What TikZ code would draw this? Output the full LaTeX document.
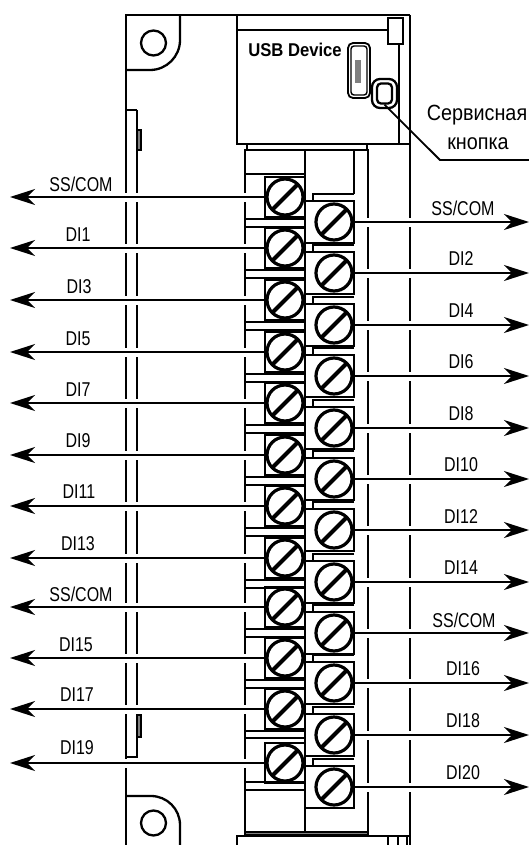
\documentclass[tikz,border=0pt]{standalone}
\usepackage{fontspec}
\setmainfont[FakeStretch=0.8]{Liberation Sans}
\newfontfamily\usbfont[FakeStretch=0.9]{Liberation Sans}
\usetikzlibrary{arrows.meta}
\tikzset{
  frameline/.style={draw,line width=2.3pt},
  screwpic/.style={path picture={
      \begin{scope}[shift={(path picture bounding box.center)}]
        \draw[line width=3.2pt] (#1,0) circle (18);
        \draw[line width=4pt] (#1-13,13) -- (#1+13,-13);
      \end{scope}}},
  lterm/.style={rectangle,draw,line width=2.4pt,inner sep=0pt,minimum width=40pt,minimum height=40pt,screwpic=0},
  rterm/.style={rectangle,draw,line width=2.4pt,inner sep=0pt,minimum width=49pt,minimum height=42pt,screwpic=4.5},
  wire/.style={draw,line width=2pt,-{Stealth[length=25pt,width=16pt,inset=8pt]},preaction={draw=white,line width=9pt,-}},
  pinlabel/.style={font=\fontsize{20}{20}\selectfont,inner sep=0pt},
}
\begin{document}
\begin{tikzpicture}[x=1pt,y=-1pt]
      \useasboundingbox (0,0) rectangle (529,845);
      % housing
      \draw[frameline] (126,845) -- (126,15) -- (410,15);
      \draw[frameline] (410,15) -- (410,845);
      \draw[frameline] (137,110) -- (137,757) -- (126,757);
      \draw[frameline] (126,110) -- (137,110);
      \draw[frameline,fill=gray] (137,130) rectangle (141,150);
      \draw[frameline,fill=gray] (137,715) rectangle (141,737);
      \draw[frameline] (180,15) -- (180,40) arc (0:90:30) -- (126,70);
      \draw[frameline] (126,796) -- (151,796) arc (-90:0:29) -- (180,845);
      \draw[frameline] (237,15) -- (237,144) -- (410,144);
      \draw[frameline] (237,30) -- (388,30);
      \draw[frameline] (388,18) rectangle (403,44);
      \draw[frameline] (399,44) -- (399,144);
      \draw[frameline] (237,845) -- (237,836) -- (410,836);
      \draw[frameline] (388,836) -- (388,845);
      \draw[frameline] (398,836) -- (398,845);
      \draw[frameline] (407,836) -- (407,845);
      % terminal block
      \draw[frameline] (247,144) -- (247,150);
      \draw[frameline] (367,144) -- (367,150);
      \draw[frameline] (245,832) -- (245,150) -- (368,150) -- (368,832);
      \draw[frameline] (305,150) -- (305,832);
      \draw[frameline,fill=gray] (245,832) rectangle (368,835);
      \draw[frameline] (245,174) -- (305,174);
      \draw[frameline] (354,150) -- (354,194);
      % strips, left row
      \draw[frameline] (245,219) -- (305,219) (245,227) -- (305,227);
      \draw[frameline] (245,270) -- (305,270) (245,278) -- (305,278);
      \draw[frameline] (245,322) -- (305,322) (245,330) -- (305,330);
      \draw[frameline] (245,374) -- (305,374) (245,382) -- (305,382);
      \draw[frameline] (245,425) -- (305,425) (245,433) -- (305,433);
      \draw[frameline] (245,477) -- (305,477) (245,485) -- (305,485);
      \draw[frameline] (245,528) -- (305,528) (245,536) -- (305,536);
      \draw[frameline] (245,580) -- (305,580) (245,588) -- (305,588);
      \draw[frameline] (245,629) -- (305,629) (245,637) -- (305,637);
      \draw[frameline] (245,680) -- (305,680) (245,688) -- (305,688);
      \draw[frameline] (245,731) -- (305,731) (245,738) -- (305,738);
      \draw[frameline] (245,782) -- (305,782) (245,790) -- (305,790);
      % strips, right row
      \draw[frameline] (354,194) -- (313,194) -- (313,201);
      \draw[frameline] (354,245) -- (313,245) -- (313,252);
      \draw[frameline] (354,297) -- (313,297) -- (313,304);
      \draw[frameline] (354,348) -- (313,348) -- (313,355);
      \draw[frameline] (354,400) -- (313,400) -- (313,407);
      \draw[frameline] (354,451) -- (313,451) -- (313,458);
      \draw[frameline] (354,502) -- (313,502) -- (313,509);
      \draw[frameline] (354,554) -- (313,554) -- (313,561);
      \draw[frameline] (354,605) -- (313,605) -- (313,612);
      \draw[frameline] (354,655) -- (313,655) -- (313,662);
      \draw[frameline] (354,707) -- (313,707) -- (313,714);
      \draw[frameline] (354,759) -- (313,759) -- (313,766);
      \begin{scope}[every node/.style={circle,draw,line width=2.3pt,inner sep=0pt,minimum size=25pt}]
        \node (holetop) at (153.5,43) {};
        \node (holebottom) at (153.5,823) {};
      \end{scope}
      % usb panel
      \node[font=\usbfont\bfseries\fontsize{18.5}{19}\selectfont,inner sep=0pt] (usblabel) at (295,50) {USB Device};
      \node[rectangle,rounded corners=5pt,draw,line width=1.8pt,minimum width=22pt,minimum height=55pt,inner sep=0pt] (usbport) at (359,70.5) {};
      \node[rectangle,rounded corners=3pt,draw,line width=1.4pt,minimum width=16pt,minimum height=49pt,inner sep=0pt] (usbinner) at (359,70.5) {};
      \node[rectangle,fill=gray,draw=gray,line width=.6pt,minimum width=5pt,minimum height=22pt,inner sep=0pt] (usbpins) at (358,71) {};
      \node[rectangle,rounded corners=8pt,draw,line width=2.3pt,minimum width=25pt,minimum height=29pt,inner sep=0pt] (btnframe) at (384.5,93.5) {};
      \node[rectangle,rounded corners=4pt,draw,line width=2.3pt,minimum width=15pt,minimum height=20pt,inner sep=0pt] (btn) at (384.5,93.5) {};
      \node[font=\usbfont\fontsize{22}{22}\selectfont,inner sep=0pt] (btnlabel1) at (477,115) {Сервисная};
      \node[font=\usbfont\fontsize{22}{22}\selectfont,inner sep=0pt] (btnlabel2) at (478,144) {кнопка};
      \coordinate (btnbend) at (440,160);
      \coordinate (btnend) at (529,160);
      \draw[line width=1.8pt] (btn.south) -- (btnbend) -- (btnend);
      % terminals
      \begin{scope}[every node/.style={lterm}]
        \node (l1) at (285,197) {};
        \node (l2) at (285,248) {};
        \node (l3) at (285,300) {};
        \node (l4) at (285,352) {};
        \node (l5) at (285,403) {};
        \node (l6) at (285,455) {};
        \node (l7) at (285,506) {};
        \node (l8) at (285,558) {};
        \node (l9) at (285,607) {};
        \node (l10) at (285,658) {};
        \node (l11) at (285,709) {};
        \node (l12) at (285,763) {};
      \end{scope}
      \begin{scope}[every node/.style={rterm}]
        \node (r1) at (329.5,222) {};
        \node (r2) at (329.5,273) {};
        \node (r3) at (329.5,325) {};
        \node (r4) at (329.5,376) {};
        \node (r5) at (329.5,428) {};
        \node (r6) at (329.5,479) {};
        \node (r7) at (329.5,530) {};
        \node (r8) at (329.5,582) {};
        \node (r9) at (329.5,633) {};
        \node (r10) at (329.5,683) {};
        \node (r11) at (329.5,735) {};
        \node (r12) at (329.5,787) {};
      \end{scope}
      % free ends of the wires
      \coordinate (lw1) at (10,197);
      \coordinate (lw2) at (10,248);
      \coordinate (lw3) at (10,300);
      \coordinate (lw4) at (10,352);
      \coordinate (lw5) at (10,403);
      \coordinate (lw6) at (10,455);
      \coordinate (lw7) at (10,506);
      \coordinate (lw8) at (10,558);
      \coordinate (lw9) at (10,607);
      \coordinate (lw10) at (10,658);
      \coordinate (lw11) at (10,709);
      \coordinate (lw12) at (10,763);
      \coordinate (rw1) at (529,222);
      \coordinate (rw2) at (529,273);
      \coordinate (rw3) at (529,325);
      \coordinate (rw4) at (529,376);
      \coordinate (rw5) at (529,428);
      \coordinate (rw6) at (529,479);
      \coordinate (rw7) at (529,530);
      \coordinate (rw8) at (529,582);
      \coordinate (rw9) at (529,633);
      \coordinate (rw10) at (529,683);
      \coordinate (rw11) at (529,735);
      \coordinate (rw12) at (529,787);
      \begin{scope}[every edge/.style={wire}]
        \path (l1) edge (lw1);
        \path (l2) edge (lw2);
        \path (l3) edge (lw3);
        \path (l4) edge (lw4);
        \path (l5) edge (lw5);
        \path (l6) edge (lw6);
        \path (l7) edge (lw7);
        \path (l8) edge (lw8);
        \path (l9) edge (lw9);
        \path (l10) edge (lw10);
        \path (l11) edge (lw11);
        \path (l12) edge (lw12);
        \path (r1) edge (rw1);
        \path (r2) edge (rw2);
        \path (r3) edge (rw3);
        \path (r4) edge (rw4);
        \path (r5) edge (rw5);
        \path (r6) edge (rw6);
        \path (r7) edge (rw7);
        \path (r8) edge (rw8);
        \path (r9) edge (rw9);
        \path (r10) edge (rw10);
        \path (r11) edge (rw11);
        \path (r12) edge (rw12);
      \end{scope}
      % pin labels
      \begin{scope}[every node/.style={pinlabel}]
        \node (ln1) at (81,184) {SS/COM};
        \node (ln2) at (78,235) {DI1};
        \node (ln3) at (79,287) {DI3};
        \node (ln4) at (78,339) {DI5};
        \node (ln5) at (78,390) {DI7};
        \node (ln6) at (78,441) {DI9};
        \node (ln7) at (79,492) {DI11};
        \node (ln8) at (78,544) {DI13};
        \node (ln9) at (81,594) {SS/COM};
        \node (ln10) at (76,645) {DI15};
        \node (ln11) at (77,695) {DI17};
        \node (ln12) at (77,748) {DI19};
        \node (rn1) at (463,208) {SS/COM};
        \node (rn2) at (461,259) {DI2};
        \node (rn3) at (461,311) {DI4};
        \node (rn4) at (461,362) {DI6};
        \node (rn5) at (461,414) {DI8};
        \node (rn6) at (461,465) {DI10};
        \node (rn7) at (461,517) {DI12};
        \node (rn8) at (461,568) {DI14};
        \node (rn9) at (464,620) {SS/COM};
        \node (rn10) at (463,669) {DI16};
        \node (rn11) at (463,721) {DI18};
        \node (rn12) at (463,773) {DI20};
      \end{scope}
    \end{tikzpicture}
\end{document}
